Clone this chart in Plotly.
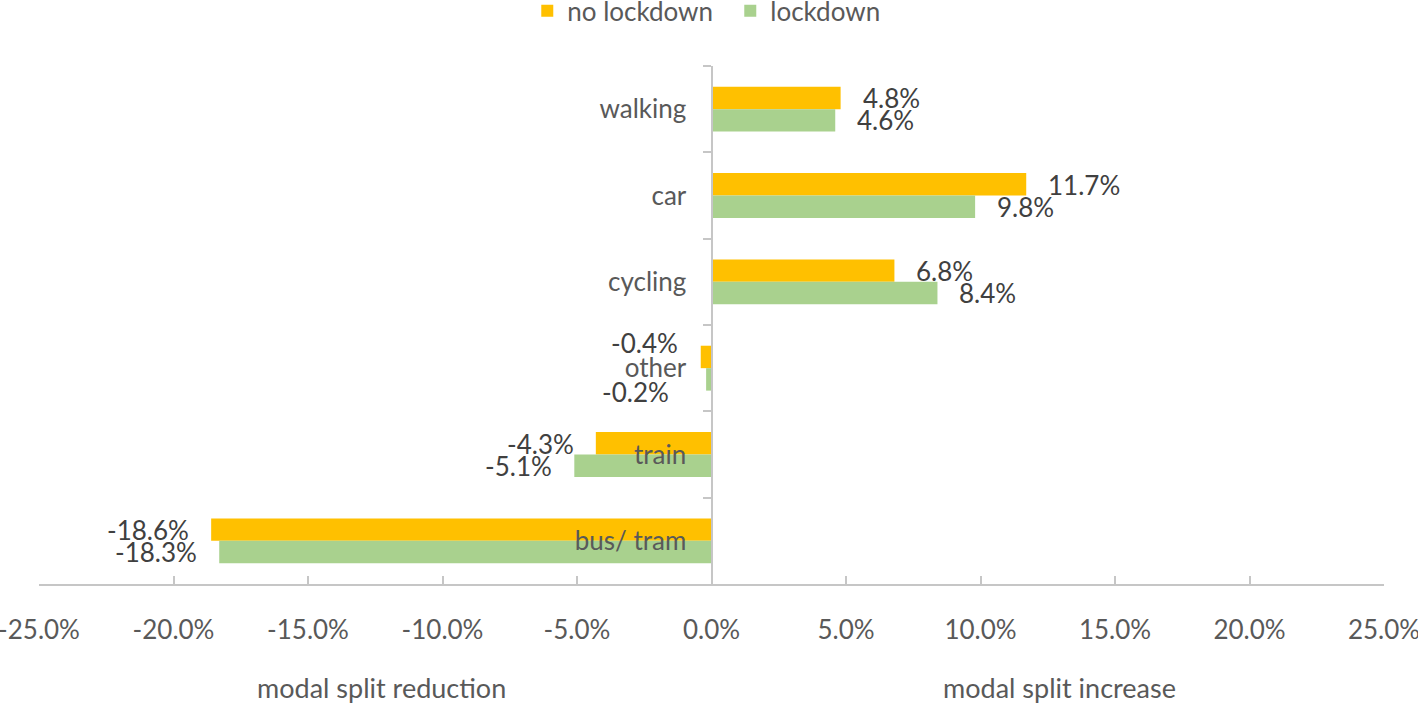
import plotly.graph_objects as go

categories = ["walking", "car", "cycling", "other", "train", "bus/ tram"]
no_lockdown = [4.8, 11.7, 6.8, -0.4, -4.3, -18.6]
lockdown = [4.6, 9.8, 8.4, -0.2, -5.1, -18.3]
series_names = ["no lockdown", "lockdown"]
x_ticks = [-25, -20, -15, -10, -5, 0, 5, 10, 15, 20, 25]
x_tick_labels = ["-25.0%", "-20.0%", "-15.0%", "-10.0%", "-5.0%", "0.0%",
                 "5.0%", "10.0%", "15.0%", "20.0%", "25.0%"]
axis_titles = ["modal split reduction", "modal split increase"]

FONT = "Lato"
ORANGE = "#FFC000"
GREEN = "#A9D18E"
AXIS = "#C6C6C6"
TXT = "#595959"
LBL = "#404040"
FS = 26

fig = go.Figure()
fig.add_trace(go.Bar(y=categories, x=no_lockdown, orientation="h",
                     name=series_names[0], marker=dict(color=ORANGE, line_width=0)))
fig.add_trace(go.Bar(y=categories, x=lockdown, orientation="h",
                     name=series_names[1], marker=dict(color=GREEN, line_width=0)))

def fmt(v):
    return f"{v:.1f}%"

# data labels
for i, cat in enumerate(categories):
    for vals, ys in ((no_lockdown, 11), (lockdown, -11)):
        v = vals[i]
        xs = 20 if v >= 0 else -20
        yshift = ys
        if cat == "other":
            if vals is no_lockdown:
                yshift, xs = 25, -21
            else:
                yshift, xs = -24, -35
        fig.add_annotation(x=v, y=cat, xref="x", yref="y", text=fmt(v),
                           showarrow=False, xanchor="left" if v >= 0 else "right",
                           yanchor="middle", xshift=xs, yshift=yshift,
                           font=dict(family=FONT, size=FS, color=LBL))

for title, px in zip(axis_titles, (0.255, 0.759)):
    fig.add_annotation(x=px, y=-0.2, xref="paper", yref="paper", text=title,
                       xanchor="center", yanchor="middle", showarrow=False,
                       font=dict(family=FONT, size=27, color=TXT))

fig.update_layout(
    width=1418, height=703,
    margin=dict(l=39, r=34, t=66, b=119, autoexpand=False),
    paper_bgcolor="white", plot_bgcolor="white",
    barmode="group", bargap=0.48, bargroupgap=0,
    font=dict(family=FONT, size=FS, color=TXT),
    legend=dict(orientation="h", x=0.515, xanchor="center", xref="container",
                y=1.152, yanchor="top", yref="paper",
                font=dict(family=FONT, size=FS, color=TXT),
                itemwidth=30, entrywidth=158, traceorder="normal"),
    showlegend=True,
    xaxis=dict(range=[-25, 25], tickvals=x_ticks, ticktext=x_tick_labels,
               showgrid=False, zeroline=False, showline=True, linecolor=AXIS,
               linewidth=2, ticks="inside", ticklen=8, tickcolor=AXIS, tickwidth=2,
               ticklabelstandoff=22, ticklabeloverflow="allow", automargin=False,
               tickfont=dict(family=FONT, size=FS, color=TXT),
               fixedrange=True),
    yaxis=dict(categoryorder="array", categoryarray=categories, autorange="reversed",
               anchor="free", position=0.5, showgrid=False, zeroline=False,
               showline=True, linecolor=AXIS, linewidth=2,
               ticks="outside", ticklen=8, tickcolor=AXIS, tickwidth=2,
               tickson="boundaries", ticklabelstandoff=19, automargin=False,
               tickfont=dict(family=FONT, size=FS, color=TXT), fixedrange=True),
)

fig.write_html("out.html", config={"displayModeBar": False},
               post_script="document.body.style.margin='0px';")
